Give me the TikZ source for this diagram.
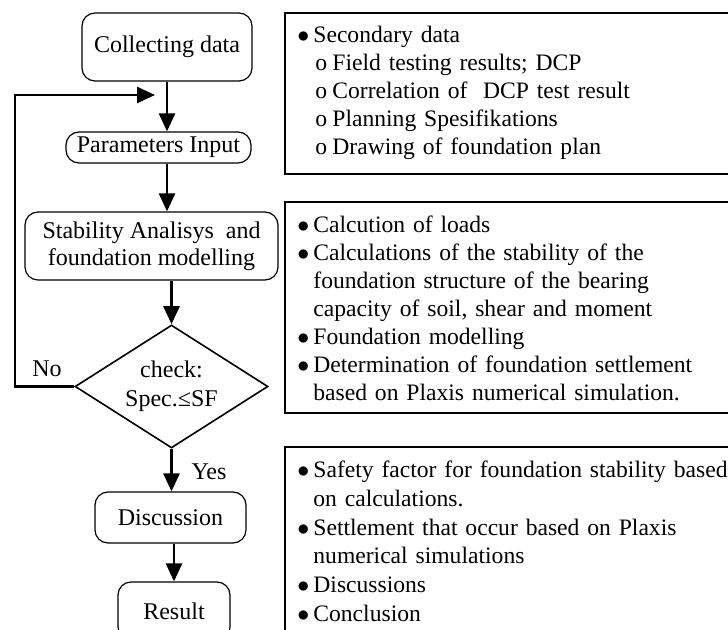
\documentclass[tikz,border=0pt]{standalone}
\usepackage{fontspec}
\setmainfont{Liberation Serif}
\usepackage{tikz}
\usetikzlibrary{shapes.geometric,arrows.meta}
\tikzstyle{stage}=[rectangle,rounded corners=6.5pt,draw=black,line width=0.6pt,inner sep=0pt,align=center,font=\fontsize{12}{13.5}\selectfont]
\tikzstyle{decision}=[diamond,draw=black,line width=0.8pt,inner sep=0pt,aspect=1.57,minimum width=96.5pt,minimum height=61.5pt,align=center,font=\fontsize{12}{14.5}\selectfont]
\tikzstyle{flow}=[-{Triangle[length=9pt,width=8pt]},line width=1.3pt]
\tikzstyle{panel}=[draw=black,line width=0.6pt]
\tikzstyle{notes}=[anchor=base west,inner sep=0pt,text width=250pt,align=left,font=\fontsize{11.8}{14}\selectfont]
\tikzstyle{tag}=[anchor=base,inner sep=0pt,font=\fontsize{12}{14}\selectfont]
\pgfdeclarelayer{edgelayer}
\pgfdeclarelayer{nodelayer}
\pgfsetlayers{edgelayer,nodelayer,main}
\newcommand{\bulitem}{\makebox[8pt][l]{$\bullet$}}
\newcommand{\circitem}{\hspace*{9pt}\makebox[8.5pt][l]{o}}
\newcommand{\hangon}{\hspace*{8pt}}

\begin{document}
\begin{tikzpicture}[x=0.5pt,y=-0.5pt]
	\useasboundingbox (0,0) rectangle (728,630);
	\begin{pgfonlayer}{nodelayer}
		\node [style=stage, minimum width=85pt, minimum height=34pt] (collect) at (167, 47) {Collecting data};
		\node [style=stage, minimum width=92.5pt, minimum height=15.5pt] (params) at (158.5, 147.5) {Parameters Input};
		\node [style=stage, minimum width=126.5pt, minimum height=34pt] (stab) at (151.5, 246) {Stability Analisys~ and\\foundation modelling};
		\node [style=decision] (check) at (171.5, 386.5) {check:\\Spec.≤SF};
		\node [style=stage, minimum width=75.5pt, minimum height=25.5pt] (disc) at (170.5, 517.5) {Discussion};
		\node [style=stage, minimum width=56pt, minimum height=29pt] (result) at (174, 611) {Result};

		\node [style=tag] (no) at (47, 377) {No};
		\node [style=tag] (yes) at (209, 480) {Yes};

		\coordinate (corner) at (15, 95);
		\coordinate (entry) at (155, 95);

		\node [style=notes] (data) at (297, 43) {%
			\bulitem Secondary data\\
			\circitem Field testing results; DCP\\
			\circitem Correlation of~ DCP test result\\
			\circitem Planning Spesifikations\\
			\circitem Drawing of foundation plan};
		\node [style=notes] (analysis) at (297, 233) {%
			\bulitem Calcution of loads\\
			\bulitem Calculations of the stability of the\\
			\hangon foundation structure of the bearing\\
			\hangon capacity of soil, shear and moment\\
			\bulitem Foundation modelling\\
			\bulitem Determination of foundation settlement\\
			\hangon based on Plaxis numerical simulation.};
		\node [style=notes, font=\fontsize{11.8}{14.5}\selectfont] (output) at (297, 477) {%
			\bulitem Safety factor for foundation stability based\\
			\hangon on calculations.\\
			\bulitem Settlement that occur based on Plaxis\\
			\hangon numerical simulations\\
			\bulitem Discussions\\
			\bulitem Conclusion};
	\end{pgfonlayer}
	\begin{pgfonlayer}{edgelayer}
		\draw [style=flow] (collect.south) to (params.north -| collect);
		\draw [style=flow] (params.south -| collect) to (stab.north -| collect);
		\draw [style=flow] (stab.south -| check) to (check.north);
		\draw [style=flow] (check.south) to (disc.north -| check);
		\draw [style=flow] (disc.south -| result) to (result.north);
		\draw [style=flow] (check.west) -| (corner) to (entry);
		\draw [style=panel] (285, 13) rectangle (740, 174);
		\draw [style=panel] (285, 202) rectangle (740, 413);
		\draw [style=panel] (285, 447) rectangle (740, 660);
	\end{pgfonlayer}
\end{tikzpicture}
\end{document}
